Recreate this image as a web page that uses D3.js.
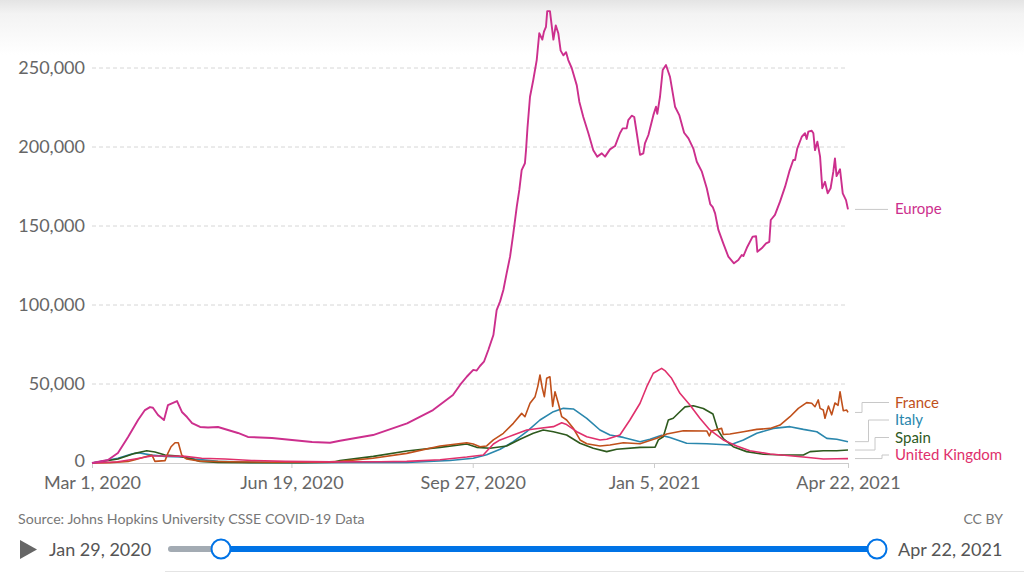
<!DOCTYPE html>
<html><head><meta charset="utf-8">
<script src="https://cdn.jsdelivr.net/npm/d3@7"></script>
<style>
html,body{margin:0;padding:0;background:#fff;}
svg{display:block;font-family:Lato,"Noto Sans",sans-serif;}
</style></head>
<body>
<svg id="chart" width="1024" height="572"></svg>
<script>
// ---- data (day offset from Mar 1, 2020, daily new confirmed cases) ----
const seriesNames = ["Europe", "France", "Italy", "Spain", "United Kingdom"];
const europe = [[0,0],[8.8,1900],[14.3,6300],[19.9,16500],[25.4,27200],[29.2,33500],[32,35400],[33.6,35000],[36.4,30400],[39.7,27200],[41.9,36700],[46.9,39200],[49.6,32300],[52.4,29100],[55.2,25300],[59.6,22800],[64,22500],[69.5,22800],[75,20900],[80.5,19000],[86,16500],[99.3,15800],[110.3,14600],[121.4,13300],[131.3,12800],[136.8,14100],[155,17700],[173.8,25100],[188.1,33500],[199.1,43000],[203,49400],[206.7,54600],[210.3,58900],[212.2,58500],[214,61400],[216.2,64100],[218.6,71500],[221.4,81000],[223.2,96800],[225.1,102300],[226.9,109500],[228.7,120000],[230.6,130600],[232.4,145400],[234.3,162200],[235.7,172800],[237,185400],[238.8,189700],[239.4,198000],[240.2,212000],[241.6,231800],[243.4,242400],[245.3,255000],[246.7,272000],[248.4,268000],[249.3,273000],[250.4,276000],[251.1,286000],[252.6,286000],[254.5,268000],[255.8,277000],[257.2,272000],[258.5,261000],[260,258000],[261.5,260000],[262.7,255000],[264.6,250000],[267.4,239000],[268.8,228700],[271,219000],[273.8,208700],[276.5,198000],[278.7,193900],[281.2,196000],[283,193900],[285.7,198500],[288.5,200600],[291.2,208700],[292.7,211800],[294.9,211800],[295.8,217000],[297.7,219800],[299.1,219000],[300.5,208700],[302.3,195000],[304.1,196000],[305,202300],[306.9,207600],[309.6,220000],[311.1,225500],[311.8,221000],[313.3,231800],[314.8,248700],[316.6,251900],[318.8,244500],[321.6,225500],[324,220000],[326.6,209000],[329,205500],[331.7,199000],[333.6,190700],[336.4,184400],[339.1,173900],[341,163900],[342.4,162000],[343.7,158000],[345.5,147500],[348.2,139000],[351,130600],[354.1,126400],[356.5,128500],[358.4,131600],[359.3,131000],[361.5,136900],[364.4,143300],[366.3,143500],[367,133700],[369.4,135900],[371.8,139000],[373.6,140000],[374.4,153800],[376.7,157000],[379.5,165400],[382.3,174900],[384.6,184400],[386.8,191800],[387.8,191800],[389,199000],[391.5,206500],[393.3,208700],[394.2,205000],[395.1,209700],[397,210300],[397.9,208700],[398.8,198000],[400.1,203400],[401.6,193900],[402.8,173900],[404.3,178000],[405.8,170700],[407.4,173900],[408.9,184400],[409.8,192800],[410.7,181600],[412.6,185900],[414.1,170700],[415.9,166400],[417,160500]];
const france = [[0,0],[10,200],[19.9,1000],[23.7,2000],[30.9,4400],[33.1,5000],[34.7,1000],[40.3,1500],[41.9,6300],[43.6,10300],[45.8,12800],[47.6,12800],[49.5,5000],[52.2,2500],[59.6,1200],[75,800],[100,500],[125,500],[136.8,1000],[155,3000],[173.6,6100],[192,10800],[206.7,12800],[210.3,12000],[214,10300],[217.7,10800],[221.4,14600],[226.9,18800],[232.4,25100],[237,31400],[238.8,29300],[241.6,37800],[244.4,42000],[245.9,48500],[247.1,55700],[248.4,47300],[249.5,42000],[250.8,53600],[252.6,54600],[254.1,35800],[255.4,45100],[257.2,37800],[259.1,29300],[261.8,27200],[265.5,22000],[269.2,14600],[272.9,12200],[280.2,10800],[285.7,11400],[293.1,12800],[302.3,12200],[311.5,15600],[317,18400],[326.2,20400],[339.1,20300],[340.5,17100],[341.7,20300],[347.3,21900],[348.2,18000],[351.9,18400],[359.3,19800],[366.7,21300],[374,21900],[379.5,24000],[385,29300],[389.6,34600],[394.2,38200],[397,37800],[398.8,35600],[400.6,39900],[401.6,34600],[403.4,33500],[404.3,28300],[406.2,36000],[408,30500],[409.8,38000],[411.5,36500],[412.6,45100],[413.5,39000],[414.4,33100],[416.3,33500],[417,32000]];
const italy = [[0,0],[14.3,3000],[21.9,5700],[25.5,6500],[32.9,5000],[40.3,4200],[49.5,3800],[56.8,2500],[69.5,1000],[87.2,400],[114.7,250],[142.3,300],[173.6,400],[197.5,1600],[210.3,3000],[217.7,5200],[225.1,8700],[232.4,13500],[239.8,19800],[247.1,27200],[254.5,32500],[260,34600],[265.5,34200],[272.9,28300],[280.2,20900],[285.7,17700],[293.1,16200],[302.3,13500],[307.8,15000],[314.2,17500],[318.8,16200],[328,12500],[339.1,12200],[351.9,11400],[359.3,14600],[366.7,18800],[375.8,21900],[385,23000],[392.4,21300],[399.8,19800],[405.3,15600],[410.8,15000],[417,13500]];
const spain = [[0,0],[14.3,2500],[23.7,6100],[30.2,7800],[34.7,7000],[40.3,5100],[47.6,4400],[55,2500],[59.6,1000],[69.5,300],[87.2,200],[114.7,200],[133,500],[136.8,1600],[155.2,4200],[173.6,7600],[192,9900],[206.7,12000],[212.2,9900],[219.5,9300],[228.7,10800],[236.1,15000],[243.4,18800],[248.9,20900],[254.5,19800],[261.8,17700],[269.2,12500],[276.5,9300],[283.9,7200],[289.4,8700],[302.3,9900],[310.6,10000],[312.4,14600],[315.1,16600],[317.9,27200],[320.6,28300],[323.4,31500],[327.1,35500],[331.7,36200],[337.2,34500],[342.5,31000],[345.2,21000],[348.2,15500],[353.7,10300],[361.1,7200],[370.3,5500],[381.3,5100],[392.4,5100],[396.1,7200],[403.4,7800],[410.8,7800],[417,8200]];
const uk = [[0,0],[14.3,800],[23.7,2500],[32.9,4400],[42.1,4400],[51.3,4200],[60.5,3000],[73.4,2500],[88.1,1600],[106.5,1000],[131.3,700],[158.9,800],[173.6,1000],[192,2100],[206.7,3800],[215.8,5100],[221.4,12000],[225.1,14600],[232.4,17700],[239.8,20900],[247.1,22000],[254.5,23000],[259.1,25500],[261.8,24300],[267.4,19800],[272.9,16600],[280.2,14600],[283.9,15000],[291.2,17700],[296.7,27200],[302.3,37800],[306,48300],[309.6,56800],[314.2,59900],[316,58500],[319.7,53600],[324.3,44100],[329.8,36700],[335.3,28300],[340.8,20900],[348.2,14600],[355.6,10800],[362.9,7800],[374,5700],[385,4600],[392.4,3800],[403.4,2500],[410.8,2700],[417,2800]];
const yTicks = [0, 50000, 100000, 150000, 200000, 250000];
const xTickLabels = ["Mar 1, 2020", "Jun 19, 2020", "Sep 27, 2020", "Jan 5, 2021", "Apr 22, 2021"];
const sourceText = "Source: Johns Hopkins University CSSE COVID-19 Data";
const licenseText = "CC BY";
const timelineStart = "Jan 29, 2020";
const timelineEnd = "Apr 22, 2021";

// ---- setup ----
const colors = {"Europe":"#cc2f8d","France":"#c0501b","Italy":"#2a87ad","Spain":"#2e5a1e","United Kingdom":"#e0306c"};
const seriesData = {"Europe":europe,"France":france,"Italy":italy,"Spain":spain,"United Kingdom":uk};
const parse = d3.timeParse("%b %d, %Y");
const baseDate = parse(xTickLabels[0]);
const dayToDate = d => new Date(baseDate.getTime() + d * 864e5);

const svg = d3.select("#chart");
const defs = svg.append("defs");
const grad = defs.append("linearGradient").attr("id","topshade").attr("x1",0).attr("x2",0).attr("y1",0).attr("y2",1);
grad.append("stop").attr("offset","0").attr("stop-color","#e4e4e4");
grad.append("stop").attr("offset","0.25").attr("stop-color","#f3f3f3");
grad.append("stop").attr("offset","1").attr("stop-color","#ffffff");
svg.append("rect").attr("x",0).attr("y",0).attr("width",1024).attr("height",55).attr("fill","url(#topshade)");

const left = 92, right = 848, bottom = 463;
const x = d3.scaleTime().domain([baseDate, parse(xTickLabels[4])]).range([left, right]);
const y = d3.scaleLinear().domain([0, 250000]).range([bottom, 68]);

// grid + y axis
const yAxis = d3.axisLeft(y).tickValues(yTicks).tickFormat(d3.format(",")).tickSize(0).tickPadding(7);
const gy = svg.append("g").attr("transform", `translate(${left},0)`).call(yAxis);
gy.select(".domain").remove();
gy.selectAll("text").attr("font-size", 18).attr("fill", "#666").attr("font-family","Lato");
gy.selectAll(".tick").filter(d => d === 0).select("text").attr("dy", "0.18em");
svg.append("g").selectAll("line").data(yTicks.filter(t => t > 0)).join("line")
  .attr("x1", left).attr("x2", right).attr("y1", d => y(d)).attr("y2", d => y(d))
  .attr("stroke", "#d6d6d6").attr("stroke-dasharray", "4,3");

// x axis
const xTicks = xTickLabels.map(parse);
const xAxis = d3.axisBottom(x).tickValues(xTicks).tickFormat(d3.timeFormat("%b %-d, %Y")).tickSize(5).tickSizeOuter(0).tickPadding(8);
const gx = svg.append("g").attr("transform", `translate(0,${bottom})`).call(xAxis);
gx.select(".domain").attr("stroke", "#cccccc");
gx.selectAll(".tick line").attr("stroke", "#cccccc");
gx.selectAll("text").attr("font-size", 18).attr("fill", "#666").attr("font-family","Lato");

// lines
const line = d3.line().x(d => x(dayToDate(d[0]))).y(d => y(d[1]));
const drawOrder = ["Italy", "Spain", "France", "United Kingdom", "Europe"];
svg.append("g").selectAll("path").data(drawOrder).join("path")
  .attr("d", n => line(seriesData[n]))
  .attr("fill", "none").attr("stroke", n => colors[n])
  .attr("stroke-width", n => n === "Europe" ? 1.9 : 1.6)
  .attr("stroke-linejoin", "round");

// labels with connectors
const labelY = {"Europe":209, "France":402.5, "Italy":420, "Spain":437.5, "United Kingdom":455};
const elbowX = {"Europe":null, "France":862, "Italy":868.5, "Spain":875, "United Kingdom":882};
const lg = svg.append("g");
seriesNames.forEach(n => {
  const d = seriesData[n];
  const yEnd = y(d[d.length - 1][1]);
  const ly = labelY[n];
  let p;
  if (elbowX[n] === null) p = `M855,${yEnd}H888`;
  else p = `M855,${yEnd}H${elbowX[n]}V${ly}H889`;
  lg.append("path").attr("d", p).attr("fill","none").attr("stroke","#c8c8c8").attr("stroke-width",1);
  lg.append("text").attr("x", 895).attr("y", ly).attr("dy","0.35em")
    .attr("font-size", 15).attr("fill", colors[n]).text(n);
});

// footer
svg.append("text").attr("x",18).attr("y",519).attr("dy","0.35em").attr("font-size",14.2).attr("fill","#777").text(sourceText);
svg.append("text").attr("x",1003).attr("y",519).attr("dy","0.35em").attr("text-anchor","end").attr("font-size",14).attr("fill","#777").text(licenseText);

// timeline
svg.append("path").attr("d","M20,540L37,549.5L20,559Z").attr("fill","#666");
svg.append("text").attr("x",49).attr("y",550).attr("dy","0.35em").attr("font-size",18).attr("fill","#555").text(timelineStart);
svg.append("line").attr("x1",171).attr("x2",221).attr("y1",549).attr("y2",549).attr("stroke","#a3abb3").attr("stroke-width",6).attr("stroke-linecap","round");
svg.append("line").attr("x1",221).attr("x2",877).attr("y1",549).attr("y2",549).attr("stroke","#0073e6").attr("stroke-width",6);
[221, 877].forEach(cx => {
  svg.append("circle").attr("cx",cx).attr("cy",549).attr("r",9.5).attr("fill","#fff").attr("stroke","#0073e6").attr("stroke-width",2);
});
svg.append("text").attr("x",898).attr("y",550).attr("dy","0.35em").attr("font-size",18).attr("fill","#555").text(timelineEnd);
svg.append("line").attr("x1",165).attr("x2",1024).attr("y1",571.5).attr("y2",571.5).attr("stroke","#e4e4e4");
</script>
</body></html>
